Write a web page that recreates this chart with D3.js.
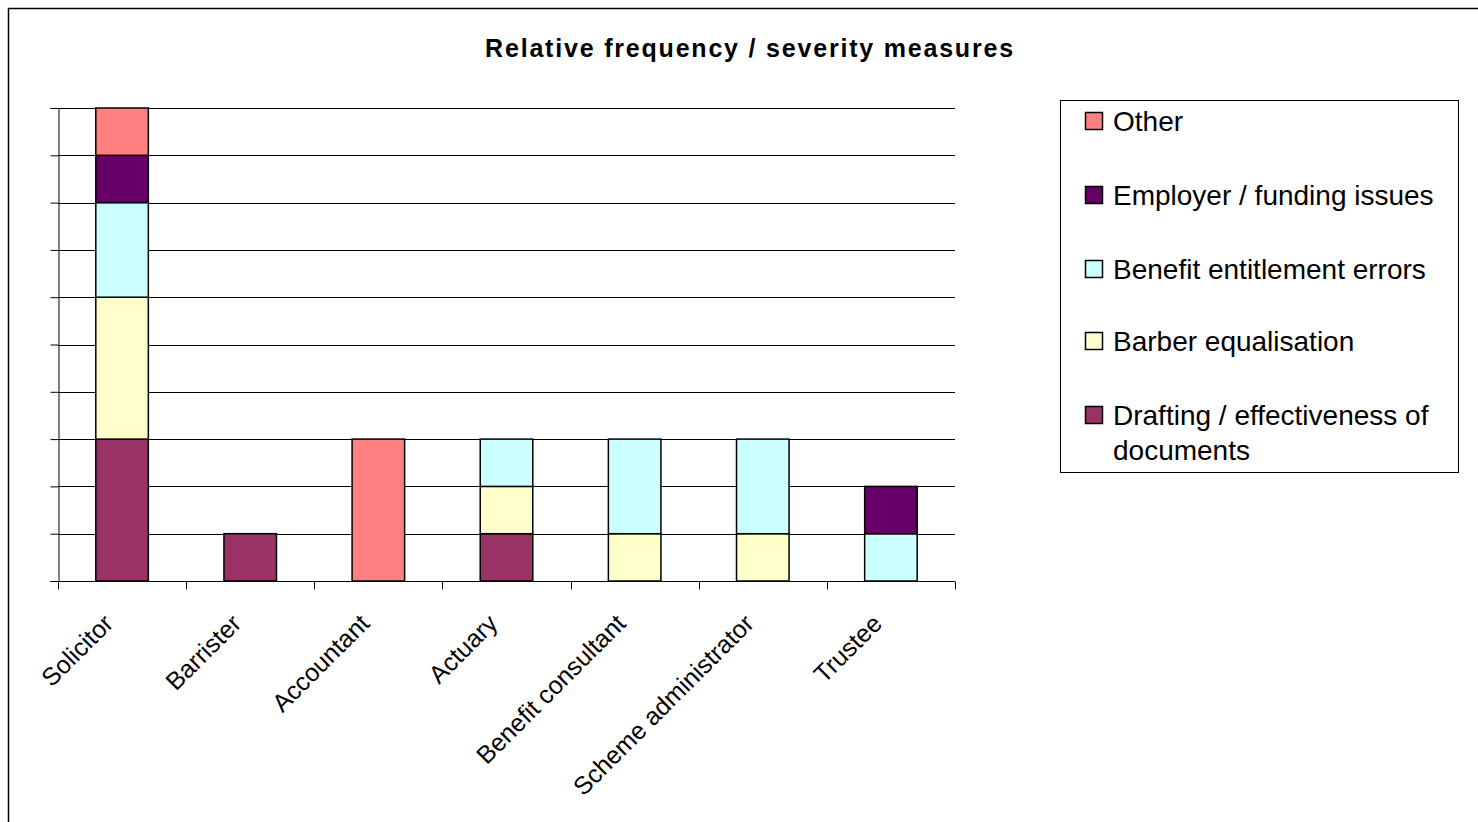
<!DOCTYPE html>
<html>
<head>
<meta charset="utf-8">
<script src="https://cdn.jsdelivr.net/npm/d3@7"></script>
<style>
  body { margin: 0; background: #fff; }
  svg { display: block; font-family: "Liberation Sans", Arial, sans-serif; }
</style>
</head>
<body>
<div id="chart"></div>
<script>
const categories = ['Solicitor', 'Barrister', 'Accountant', 'Actuary', 'Benefit consultant', 'Scheme administrator', 'Trustee']
const seriesNames = ['Drafting / effectiveness of documents', 'Barber equalisation', 'Benefit entitlement errors', 'Employer / funding issues', 'Other']
const drafting = [3, 1, 0, 1, 0, 0, 0]
const barber = [3, 0, 0, 1, 1, 1, 0]
const benefit = [2, 0, 0, 1, 2, 2, 1]
const employer = [1, 0, 0, 0, 0, 0, 1]
const other = [1, 0, 3, 0, 0, 0, 0]
const colors = ['#993366', '#FFFFCC', '#CCFFFF', '#660066', '#FF8080']

const width = 1478
const height = 822
const margin = { top: 108, left: 58, right: 523, bottom: 241 }

const table = categories.map((c, i) => ({
  category: c,
  [seriesNames[0]]: drafting[i],
  [seriesNames[1]]: barber[i],
  [seriesNames[2]]: benefit[i],
  [seriesNames[3]]: employer[i],
  [seriesNames[4]]: other[i]
}))

const stacked = d3.stack().keys(seriesNames)(table)

const x = d3.scaleBand().domain(categories).range([margin.left, width - margin.right]).padding(0)
const y = d3.scaleLinear().domain([0, 10]).range([height - margin.bottom, margin.top])
const barW = x.bandwidth() * 0.41

const svg = d3.select('#chart').append('svg').attr('width', width).attr('height', height)

// outer frame (runs past the window on right and bottom)
svg.append('rect')
  .attr('x', 8.5).attr('y', 8.5)
  .attr('width', width + 20).attr('height', height + 20)
  .attr('fill', 'none').attr('stroke', '#000').attr('stroke-width', 1.5)

svg.append('text')
  .attr('x', 750).attr('y', 57)
  .attr('text-anchor', 'middle')
  .attr('font-weight', 'bold')
  .attr('font-size', 25)
  .attr('letter-spacing', 1.8)
  .text('Relative frequency / severity measures')

// gridlines
svg.append('g')
  .selectAll('line')
  .data(y.ticks(10).filter((d) => d > 0))
  .join('line')
  .attr('x1', margin.left).attr('x2', width - margin.right)
  .attr('y1', (d) => Math.round(y(d)) + 0.5).attr('y2', (d) => Math.round(y(d)) + 0.5)
  .attr('stroke', '#000').attr('stroke-width', 1)

// y axis without labels
const yAxis = svg.append('g')
  .attr('transform', `translate(${margin.left + 0.5},0)`)
  .call(d3.axisLeft(y).ticks(10).tickSize(8).tickFormat(''))
yAxis.select('.domain').attr('stroke', '#000')

// x axis: ticks at band boundaries
const xAxis = svg.append('g').attr('transform', `translate(0,${Math.round(y(0)) + 0.5})`)
xAxis.append('line')
  .attr('x1', margin.left).attr('x2', width - margin.right)
  .attr('stroke', '#000')
xAxis.selectAll('.tk')
  .data(categories.map((c) => x(c)).concat([x.range()[1]]))
  .join('line')
  .attr('class', 'tk')
  .attr('x1', (d) => Math.round(d) + 0.5).attr('x2', (d) => Math.round(d) + 0.5)
  .attr('y1', 0).attr('y2', 8)
  .attr('stroke', '#000')

xAxis.selectAll('.lbl')
  .data(categories)
  .join('text')
  .attr('class', 'lbl')
  .attr('font-size', 25)
  .attr('text-anchor', 'end')
  .attr('dy', '0.71em')
  .attr('transform', (d) => `translate(${x(d) + x.bandwidth() / 2 - 20},${31}) rotate(-45)`)
  .text((d) => d)

// bars
svg.append('g')
  .selectAll('g')
  .data(stacked)
  .join('g')
  .attr('fill', (d, i) => colors[i])
  .selectAll('rect')
  .data((d) => d.filter((p) => p[1] > p[0]))
  .join('rect')
  .attr('x', (d) => x(d.data.category) + (x.bandwidth() - barW) / 2)
  .attr('y', (d) => y(d[1]))
  .attr('width', barW)
  .attr('height', (d) => y(d[0]) - y(d[1]))
  .attr('stroke', '#000')
  .attr('stroke-width', 1.5)

// legend
const legend = svg.append('g')
legend.append('rect')
  .attr('x', 1060.5).attr('y', 100.5).attr('width', 398).attr('height', 372)
  .attr('fill', '#fff').attr('stroke', '#000').attr('stroke-width', 1)

const legendOrder = seriesNames.map((n, i) => ({ name: n, color: colors[i] })).reverse()
const legendY = [121, 195, 269, 341, 415]
const item = legend.selectAll('.item')
  .data(legendOrder)
  .join('g')
  .attr('class', 'item')
  .attr('transform', (d, i) => `translate(1085,${legendY[i]})`)
item.append('rect')
  .attr('x', 0.5).attr('y', -8.5).attr('width', 17).attr('height', 17)
  .attr('fill', (d) => d.color).attr('stroke', '#000').attr('stroke-width', 1.5)
const lt = item.append('text')
  .attr('x', 28).attr('y', 10)
  .attr('font-size', 28)
lt.each(function (d) {
  const t = d3.select(this)
  if (d.name.startsWith('Drafting')) {
    t.append('tspan').attr('x', 28).text('Drafting / effectiveness of')
    t.append('tspan').attr('x', 28).attr('dy', 35).text('documents')
  } else {
    t.text(d.name)
  }
})
</script>
</body>
</html>
